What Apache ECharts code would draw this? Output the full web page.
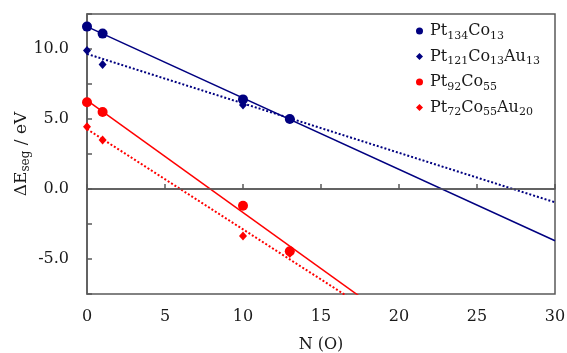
<!DOCTYPE html>
<html>
<head>
<meta charset="utf-8">
<script src="https://cdn.jsdelivr.net/npm/echarts@6/dist/echarts.min.js"></script>
<style>
  html, body { margin: 0; padding: 0; background: #fff; }
  #chart { width: 567px; height: 353px; }
</style>
</head>
<body>
<div id="chart"></div>
<script>
// N (O) values shared by all four systems
const nO = [0, 1, 10, 13];

// ΔE_seg values (eV)
const ptCo134 = [11.6, 11.1, 6.4, 5.0];
const ptCoAu121 = [9.9, 8.9, 6.0, 5.0];
const ptCo92 = [6.2, 5.5, -1.2, -4.45];
const ptCoAu72 = [4.45, 3.5, -3.35, -4.6];

// linear fit lines: value at N = 0 and N = 30
const fitX = [0, 30];
const fitPtCo134 = [11.6, -3.7];
const fitPtCoAu121 = [9.65, -0.95];
const fitPtCo92 = [6.33, -17.7];
const fitPtCoAu72 = [4.28, -17.2];

const yTicks = [-5, 0, 5, 10]; // labelled ticks

const NAVY = '#000080';
const RED = '#ff0000';
const AXIS = '#595959';
const TEXT = '#1a1a1a';
const FONT = 'DejaVu Serif';

const legendRich = {
    n: { fontFamily: FONT, fontSize: 16, color: TEXT, lineHeight: 20 },
    s: { fontFamily: FONT, fontSize: 11, color: TEXT, padding: [10, 0, 0, 0] }
};
const legendLabels = {
    'Pt134Co13': '{n|Pt}{s|134}{n|Co}{s|13}',
    'Pt121Co13Au13': '{n|Pt}{s|121}{n|Co}{s|13}{n|Au}{s|13}',
    'Pt92Co55': '{n|Pt}{s|92}{n|Co}{s|55}',
    'Pt72Co55Au20': '{n|Pt}{s|72}{n|Co}{s|55}{n|Au}{s|20}'
};

const pts = (ys) => nO.map((x, i) => [x, ys[i]]);
const fit = (ys) => fitX.map((x, i) => [x, ys[i]]);

const chart = echarts.init(document.getElementById('chart'), null, { renderer: 'canvas' });

const option = {
    animation: false,
    grid: {
        left: 87, right: 12, top: 14, bottom: 59,
        outerBoundsMode: 'none', containLabel: false,
        show: true, borderColor: AXIS, borderWidth: 1.5, backgroundColor: 'transparent'
    },
    legend: {
        orient: 'vertical',
        left: 411, top: 18,
        itemWidth: 7, itemHeight: 7, itemGap: 7,
        data: [
            { name: 'Pt134Co13', icon: 'circle' },
            { name: 'Pt121Co13Au13', icon: 'diamond' },
            { name: 'Pt92Co55', icon: 'circle' },
            { name: 'Pt72Co55Au20', icon: 'diamond' }
        ],
        formatter: (name) => legendLabels[name],
        textStyle: { rich: legendRich, padding: [0, 0, 0, 2] }
    },
    xAxis: {
        type: 'value', min: 0, max: 30, interval: 5,
        name: 'N (O)', nameLocation: 'middle', nameGap: 43, nameMoveOverlap: false,
        nameTextStyle: { fontFamily: FONT, fontSize: 16, color: TEXT },
        axisLine: { lineStyle: { color: AXIS, width: 1.5 } },
        axisTick: { inside: true, length: 5, lineStyle: { color: AXIS, width: 1.5 } },
        axisLabel: { fontFamily: FONT, fontSize: 16, color: TEXT, margin: 15 },
        splitLine: { show: false }
    },
    yAxis: {
        type: 'value', min: -7.5, max: 12.5, interval: 2.5,
        name: '{n|ΔE}{s|seg}{n| / eV}', nameLocation: 'middle', nameGap: 55, nameRotate: 90,
        nameMoveOverlap: false,
        nameTextStyle: {
            rich: {
                n: { fontFamily: FONT, fontSize: 17, color: TEXT },
                s: { fontFamily: FONT, fontSize: 12, color: TEXT, padding: [9, 0, 0, 0] }
            }
        },
        axisLine: { lineStyle: { color: AXIS, width: 1.5 } },
        axisTick: { inside: true, length: 5, lineStyle: { color: AXIS, width: 1.5 } },
        axisLabel: {
            fontFamily: FONT, fontSize: 16, color: TEXT, margin: 18,
            formatter: (v) => yTicks.includes(v) ? v.toFixed(1) : ''
        },
        splitLine: { show: false }
    },
    series: [
        {
            name: 'zero', type: 'line', data: [], silent: true,
            markLine: {
                silent: true, symbol: 'none', label: { show: false },
                lineStyle: { color: AXIS, width: 1.5, type: 'solid' },
                data: [{ yAxis: 0 }]
            }
        },
        { type: 'line', data: fit(fitPtCo134), symbol: 'none', lineStyle: { color: NAVY, width: 1.5 }, z: 2 },
        { type: 'line', data: fit(fitPtCoAu121), symbol: 'none', lineStyle: { color: NAVY, width: 2, type: [2, 2] }, z: 2 },
        { type: 'line', data: fit(fitPtCo92), symbol: 'none', lineStyle: { color: RED, width: 1.5 }, z: 2 },
        { type: 'line', data: fit(fitPtCoAu72), symbol: 'none', lineStyle: { color: RED, width: 2, type: [2, 2] }, z: 2 },
        { name: 'Pt134Co13', type: 'scatter', data: pts(ptCo134), symbol: 'circle', symbolSize: 10, itemStyle: { color: NAVY, opacity: 1 }, z: 4 },
        { name: 'Pt121Co13Au13', type: 'scatter', data: pts(ptCoAu121), symbol: 'diamond', symbolSize: [8, 9], itemStyle: { color: NAVY, opacity: 1 }, z: 3 },
        { name: 'Pt92Co55', type: 'scatter', data: pts(ptCo92), symbol: 'circle', symbolSize: 10, itemStyle: { color: RED, opacity: 1 }, z: 4 },
        { name: 'Pt72Co55Au20', type: 'scatter', data: pts(ptCoAu72), symbol: 'diamond', symbolSize: [8, 9], itemStyle: { color: RED, opacity: 1 }, z: 3 }
    ]
};

chart.setOption(option);
</script>
</body>
</html>
